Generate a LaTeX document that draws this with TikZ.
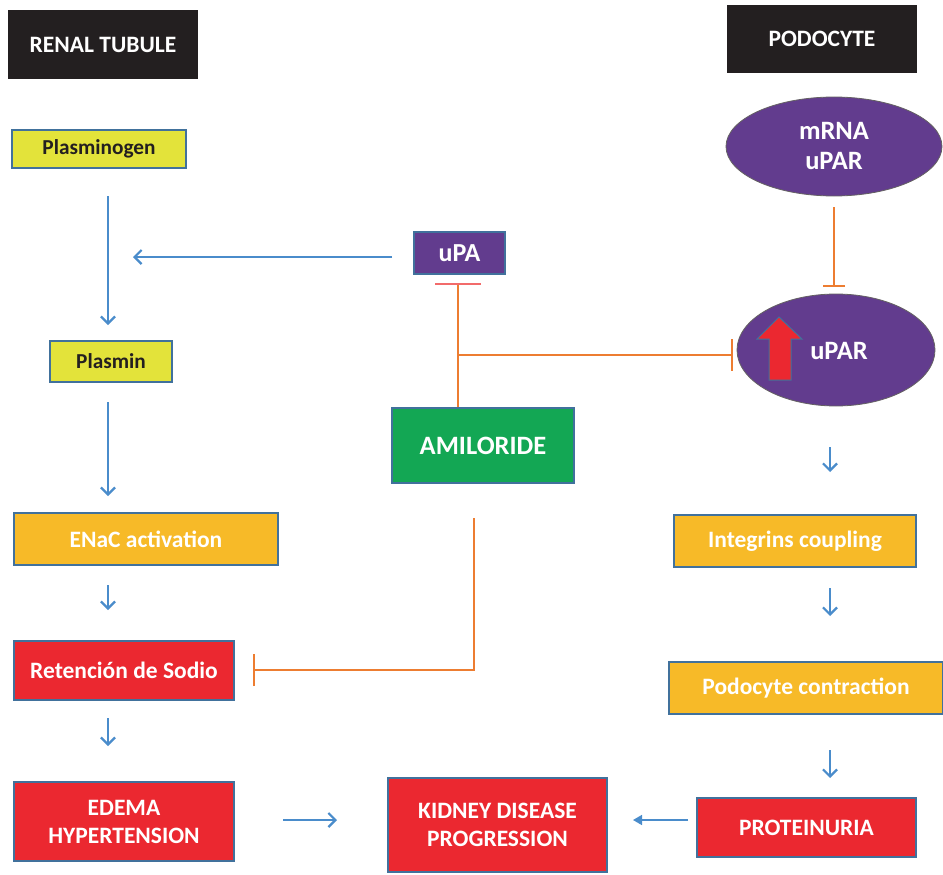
\documentclass[tikz,border=0pt]{standalone}
\usepackage{fontspec}
\setmainfont{Carlito}
\usetikzlibrary{arrows.meta,shapes.geometric}
\definecolor{cblack}{HTML}{231F20}
\definecolor{cyel}{HTML}{E3E33A}
\definecolor{cpurp}{HTML}{623C8E}
\definecolor{cgold}{HTML}{F7BA28}
\definecolor{cred}{HTML}{EB2830}
\definecolor{cgreen}{HTML}{13A754}
\definecolor{cborder}{HTML}{41719C}
\definecolor{carrow}{HTML}{4A8CCB}
\definecolor{corange}{HTML}{ED7D31}
\definecolor{cbar}{HTML}{F26B6B}
\tikzset{
  box/.style={draw=cborder,line width=1.4pt,inner sep=0pt,align=center,font=\bfseries\fontsize{23.5}{28}\selectfont},
  ybox/.style={box,fill=cyel,text=cblack,font=\bfseries\fontsize{21.3}{25}\selectfont},
  title/.style={fill=cblack,inner sep=0pt,text=white,font=\bfseries\fontsize{23.5}{28}\selectfont},
  arr/.style={draw=carrow,line width=2.2pt,-{Straight Barb[length=7pt,width=14pt,line width=2.2pt]}},
  thinarr/.style={draw=carrow,line width=1.5pt,-{Triangle[length=9pt,width=10pt]}},
  inhib/.style={draw=corange,line width=2.2pt,-{Bar[width=32pt,line width=2.2pt]}},
  bubble/.style={ellipse,fill=cpurp,draw=cblack!70,line width=0.8pt,inner sep=0pt,text=white,align=center}
}
\begin{document}
\begin{tikzpicture}[x=1pt,y=-1pt]
\useasboundingbox[fill=white] (0,0) rectangle (943,875);
% titles
\node[title,minimum width=190pt,minimum height=69pt] (renal) at (103,44.5) {RENAL TUBULE};
\node[title,minimum width=190pt,minimum height=68pt] (podo) at (822,39) {PODOCYTE};
% left column
\node[ybox,minimum width=174pt,minimum height=38pt] (plg) at (99,149) {Plasminogen};
\node[ybox,minimum width=122pt,minimum height=41pt] (pln) at (111,361.5) {Plasmin};
\node[box,fill=cgold,text=white,minimum width=264pt,minimum height=52pt] (enac) at (146,539) {ENaC activation};
\node[box,fill=cred,text=white,minimum width=220pt,minimum height=59pt] (ret) at (124,670.5) {Retención de Sodio};
\node[box,fill=cred,text=white,minimum width=220pt,minimum height=79pt] (edema) at (124,821.5) {EDEMA\\HYPERTENSION};
% center
\node[box,fill=cpurp,text=white,minimum width=91pt,minimum height=42pt,font=\bfseries\fontsize{26}{30}\selectfont] (upa) at (459.5,253) {uPA};
\node[box,fill=cgreen,text=white,minimum width=182pt,minimum height=75pt,font=\bfseries\fontsize{26.5}{31}\selectfont] (ami) at (483,445.5) {AMILORIDE};
\node[box,fill=cred,text=white,minimum width=219pt,minimum height=94pt] (kid) at (497.5,825) {KIDNEY DISEASE\\PROGRESSION};
% right column
\node[bubble,minimum width=216pt,minimum height=99pt,font=\bfseries\fontsize{26.5}{30}\selectfont] (mrna) at (834,146.5) {mRNA\\uPAR};
\node[bubble,minimum width=198pt,minimum height=112pt] (upar) at (836,350) {};
\node[text=white,font=\bfseries\fontsize{26.5}{30}\selectfont] (upartxt) at (839,351) {uPAR};
\draw[fill=cred,draw=cborder,line width=1pt] (769,380) -- (769,339) -- (757,339) -- (779,317) -- (802,339) -- (791,339) -- (791,380) -- cycle;
\node[box,fill=cgold,text=white,minimum width=242pt,minimum height=52pt] (integ) at (795,541) {Integrins coupling};
\node[box,fill=cgold,text=white,minimum width=274pt,minimum height=52pt] (contr) at (806,688) {Podocyte contraction};
\node[box,fill=cred,text=white,minimum width=219pt,minimum height=59pt] (prot) at (806.5,827.5) {PROTEINURIA};
% connector end points
\coordinate (a1s) at (108,196); \coordinate (a1e) at (108,325);
\coordinate (a2s) at (108,402); \coordinate (a2e) at (108,496);
\coordinate (a3s) at (108,585); \coordinate (a3e) at (108,610);
\coordinate (a4s) at (108,718); \coordinate (a4e) at (108,746);
\coordinate (upas) at (392,257); \coordinate (upaarr) at (133,257);
\coordinate (eds) at (283,820); \coordinate (edarr) at (337,820);
\coordinate (prots) at (688,820); \coordinate (protarr) at (633,820);
\coordinate (upabar) at (458,283);
\coordinate (junc) at (458,355);
\coordinate (uparbar) at (733,355);
\coordinate (mrnas) at (834,207); \coordinate (mrnabar) at (834,287);
\coordinate (amis) at (474,518); \coordinate (amic) at (474,670); \coordinate (retbar) at (253,670);
\coordinate (r1s) at (830,447); \coordinate (r1e) at (830,472);
\coordinate (r2s) at (830,588); \coordinate (r2e) at (830,616);
\coordinate (r3s) at (830,750); \coordinate (r3e) at (830,778);
% blue arrows
\draw[arr] (a1s) -- (a1e);
\draw[arr] (a2s) -- (a2e);
\draw[arr] (a3s) -- (a3e);
\draw[arr] (a4s) -- (a4e);
\draw[arr] (upas) -- (upaarr);
\draw[arr] (eds) -- (edarr);
\draw[thinarr] (prots) -- (protarr);
\draw[arr] (r1s) -- (r1e);
\draw[arr] (r2s) -- (r2e);
\draw[arr] (r3s) -- (r3e);
% inhibition lines
\draw[draw=corange,line width=2.2pt,-{Bar[width=46pt,line width=1.8pt,color=cbar]}] (ami.north -| upabar) -- (upabar);
\draw[inhib] (junc) -- (uparbar);
\draw[draw=corange,line width=2.2pt,-{Bar[width=22pt,line width=2.2pt]}] (mrnas) -- (mrnabar);
\draw[inhib] (amis) -- (amic) -- (retbar);
\end{tikzpicture}
\end{document}
